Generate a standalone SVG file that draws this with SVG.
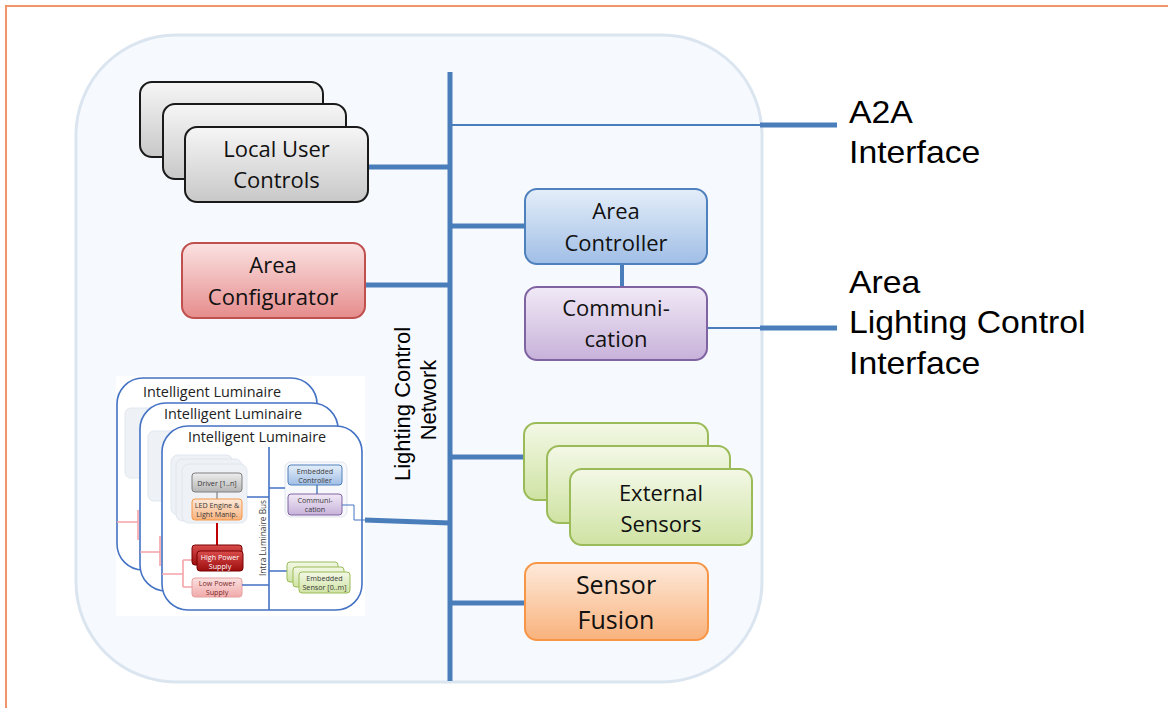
<svg xmlns="http://www.w3.org/2000/svg" width="1168" height="708" viewBox="0 0 1168 708">
<defs>
<linearGradient id="gGray" x1="0" y1="0" x2="0" y2="1"><stop offset="0" stop-color="#f6f6f6"/><stop offset="1" stop-color="#c8c8c8"/></linearGradient>
<linearGradient id="gRed" x1="0" y1="0" x2="0" y2="1"><stop offset="0" stop-color="#fbe2e2"/><stop offset="1" stop-color="#e68c8c"/></linearGradient>
<linearGradient id="gBlue" x1="0" y1="0" x2="0" y2="1"><stop offset="0" stop-color="#e4eef9"/><stop offset="1" stop-color="#a0bee6"/></linearGradient>
<linearGradient id="gPurple" x1="0" y1="0" x2="0" y2="1"><stop offset="0" stop-color="#f1e9f6"/><stop offset="1" stop-color="#c7b2da"/></linearGradient>
<linearGradient id="gGreen" x1="0" y1="0" x2="0" y2="1"><stop offset="0" stop-color="#f3f8e6"/><stop offset="1" stop-color="#cfe3a3"/></linearGradient>
<linearGradient id="gOrange" x1="0" y1="0" x2="0" y2="1"><stop offset="0" stop-color="#fdeadb"/><stop offset="1" stop-color="#f9b27c"/></linearGradient>
<linearGradient id="gDark" x1="0" y1="0" x2="0" y2="1"><stop offset="0" stop-color="#d94c4c"/><stop offset="1" stop-color="#9c0d0d"/></linearGradient>
<linearGradient id="gPink" x1="0" y1="0" x2="0" y2="1"><stop offset="0" stop-color="#fbe0e0"/><stop offset="1" stop-color="#f1aaaa"/></linearGradient>
<linearGradient id="gSGray" x1="0" y1="0" x2="0" y2="1"><stop offset="0" stop-color="#eeeeee"/><stop offset="1" stop-color="#b5b5b5"/></linearGradient>
</defs>
<style>
.big{font-family:'Open Sans',sans-serif;font-size:22px;fill:#111;text-anchor:middle}
.lbl{font-family:'Liberation Sans',Arial,sans-serif;font-size:31px;fill:#000}
.net{font-family:'Liberation Sans',Arial,sans-serif;font-size:22px;fill:#000;text-anchor:middle}
.bus{stroke:#4a7ebb;stroke-width:5;fill:none}
.thin{stroke:#4a7ebb;stroke-width:2;fill:none}
.ibus{stroke:#4472c4;stroke-width:1.6;fill:none}
.pink{stroke:#f4a3a8;stroke-width:1.6;fill:none}
.tiny{font-family:'Open Sans',sans-serif;font-size:7.2px;fill:#3a3a3a;text-anchor:middle}
.ltitle{font-family:'Open Sans',sans-serif;font-size:14.4px;fill:#222;text-anchor:middle}
.frame{fill:#fff;stroke:#4472c4;stroke-width:1.6}
.ghost{fill:#eef2f7;stroke:#e0e6ee;stroke-width:1}
.gray{fill:url(#gGray);stroke:#1a1a1a;stroke-width:2}
</style>
<rect width="1168" height="708" fill="#fff"/>
<path d="M6,708 V6 H1168" fill="none" stroke="#f0956a" stroke-width="2"/>
<rect id="area" x="76" y="35" width="686" height="647" rx="100" fill="#f6f9fd" stroke="#dbe5f0" stroke-width="3"/>

<g id="connectors">
<line class="bus" x1="450" y1="72" x2="450" y2="681"/>
<line class="bus" x1="366" y1="167" x2="450" y2="167"/>
<line class="thin" x1="450" y1="125" x2="760" y2="125"/>
<line class="bus" x1="760" y1="125" x2="837" y2="125"/>
<line class="bus" x1="450" y1="226" x2="525" y2="226"/>
<line class="bus" x1="364" y1="285" x2="450" y2="285"/>
<line stroke="#4a7ebb" stroke-width="4" x1="622" y1="264" x2="622" y2="287"/>
<line class="thin" x1="707" y1="328" x2="760" y2="328"/>
<line class="bus" x1="760" y1="328" x2="837" y2="328"/>
<line class="bus" x1="450" y1="457" x2="524" y2="457"/>
<line class="bus" x1="450" y1="603" x2="525" y2="603"/>
<line class="bus" x1="364" y1="520" x2="450" y2="523"/>
</g>

<g id="network-label">
<text class="net" transform="translate(410 404) rotate(-90)">Lighting Control</text>
<text class="net" transform="translate(436 400) rotate(-90)">Network</text>
</g>

<g id="local-user-controls">
<rect class="gray" x="140" y="82" width="183" height="75" rx="12"/>
<rect class="gray" x="163" y="104" width="183" height="75" rx="12"/>
<rect class="gray" x="185" y="127" width="183" height="75" rx="12"/>
<text class="big" x="276.5" y="157">Local User</text>
<text class="big" x="276.5" y="188">Controls</text>
</g>

<g id="area-configurator">
<rect x="182" y="243" width="183" height="75" rx="12" fill="url(#gRed)" stroke="#c0504d" stroke-width="2"/>
<text class="big" x="273" y="273">Area</text>
<text class="big" x="273" y="305">Configurator</text>
</g>

<g id="area-controller">
<rect x="525" y="189" width="182" height="75" rx="12" fill="url(#gBlue)" stroke="#4f81bd" stroke-width="2"/>
<text class="big" x="616" y="219">Area</text>
<text class="big" x="616" y="251">Controller</text>
</g>

<g id="communication">
<rect x="525" y="287" width="182" height="73" rx="12" fill="url(#gPurple)" stroke="#8064a2" stroke-width="2"/>
<text class="big" x="616" y="316">Communi-</text>
<text class="big" x="616" y="347">cation</text>
</g>

<g id="external-sensors">
<rect x="524" y="423" width="184" height="77" rx="12" fill="url(#gGreen)" stroke="#9bbb59" stroke-width="2"/>
<rect x="547" y="446" width="183" height="77" rx="12" fill="url(#gGreen)" stroke="#9bbb59" stroke-width="2"/>
<rect x="570" y="469" width="182" height="76" rx="12" fill="url(#gGreen)" stroke="#9bbb59" stroke-width="2"/>
<text class="big" x="661" y="501">External</text>
<text class="big" x="661" y="532">Sensors</text>
</g>

<g id="sensor-fusion">
<rect x="525" y="563" width="183" height="77" rx="12" fill="url(#gOrange)" stroke="#f79646" stroke-width="2"/>
<text class="big" x="616" y="594" style="font-size:25px">Sensor</text>
<text class="big" x="616" y="629" style="font-size:25px">Fusion</text>
</g>

<g id="a2a-interface">
<text class="lbl" transform="translate(849 123) scale(1.09 1)">A2A</text>
<text class="lbl" transform="translate(849 163) scale(1.09 1)">Interface</text>
</g>

<g id="area-lighting-control-interface">
<text class="lbl" transform="translate(849 293) scale(1.09 1)">Area</text>
<text class="lbl" transform="translate(849 333) scale(1.09 1)">Lighting Control</text>
<text class="lbl" transform="translate(849 374) scale(1.09 1)">Interface</text>
</g>

<g id="intelligent-luminaires">
<rect x="116" y="376" width="249" height="240" fill="#fff"/>
<rect class="frame" x="117" y="378" width="200" height="192" rx="26"/>
<rect class="ghost" x="125" y="408" width="40" height="70" rx="6"/>
<text class="ltitle" x="212" y="397">Intelligent Luminaire</text>
<path class="pink" d="M117,522 H138 M138,510 V540"/>
<rect class="frame" x="140" y="403" width="198" height="188" rx="26"/>
<rect class="ghost" x="148" y="431" width="40" height="70" rx="6"/>
<text class="ltitle" x="233" y="419">Intelligent Luminaire</text>
<path class="pink" d="M140,552 H160 M160,536 V566"/>
<rect class="frame" x="162" y="426" width="200" height="184" rx="26"/>
<text class="ltitle" x="257" y="442">Intelligent Luminaire</text>

<line class="ibus" x1="269" y1="447" x2="269" y2="610"/>
<text class="tiny" transform="translate(266 538) rotate(-90)" style="font-size:8.3px">Intra Luminaire Bus</text>

<rect class="ghost" x="171" y="455" width="62" height="60" rx="7"/>
<rect class="ghost" x="176" y="459" width="66" height="62" rx="7"/>
<rect class="ghost" x="182" y="464" width="65" height="59" rx="7"/>
<line stroke="#7f7f7f" stroke-width="1.2" x1="217" y1="492" x2="217" y2="499"/>
<rect x="192" y="473" width="50" height="19" rx="3" fill="url(#gSGray)" stroke="#7f7f7f" stroke-width="1"/>
<text class="tiny" x="217" y="486">Driver [1..n]</text>
<rect x="192" y="499" width="50" height="21" rx="3" fill="url(#gOrange)" stroke="#f79646" stroke-width="1"/>
<text class="tiny" x="217" y="507.5">LED Engine &amp;</text>
<text class="tiny" x="217" y="516.5">Light Manip.</text>

<line stroke="#c00000" stroke-width="2" x1="217" y1="523" x2="217" y2="546"/>
<path class="pink" d="M162,574 H183 M183,560 V587 M183,560 H192 M183,587 H192"/>
<rect x="192" y="545" width="50" height="20" rx="3" fill="url(#gDark)" stroke="#7a0000" stroke-width="1"/>
<rect x="197" y="551" width="46" height="20" rx="3" fill="url(#gDark)" stroke="#7a0000" stroke-width="1"/>
<text class="tiny" x="220" y="559.5" style="fill:#fff">High Power</text>
<text class="tiny" x="220" y="568.5" style="fill:#fff">Supply</text>
<rect x="192" y="578" width="50" height="19" rx="3" fill="url(#gPink)" stroke="#e6a0a0" stroke-width="1"/>
<text class="tiny" x="217" y="586" style="fill:#7b2b2b">Low Power</text>
<text class="tiny" x="217" y="595" style="fill:#7b2b2b">Supply</text>

<rect x="285" y="462" width="62" height="55" rx="6" fill="#f7f8fb" stroke="#dfe4ec" stroke-width="1"/>
<line stroke="#4f81bd" stroke-width="1.5" x1="317" y1="485" x2="317" y2="494"/>
<rect x="288" y="465" width="54" height="20" rx="3" fill="url(#gBlue)" stroke="#4f81bd" stroke-width="1"/>
<text class="tiny" x="315" y="474">Embedded</text>
<text class="tiny" x="315" y="483">Controller</text>
<rect x="288" y="494" width="54" height="21" rx="3" fill="url(#gPurple)" stroke="#8064a2" stroke-width="1"/>
<text class="tiny" x="315" y="503">Communi-</text>
<text class="tiny" x="315" y="512">cation</text>
<path class="ibus" style="stroke-width:1" d="M342,505 H354 V520 H365"/>

<path class="ibus" d="M247,497 H269 M269,488 H285 M269,571 H287 M242,585 H269"/>
<rect x="287" y="562" width="51" height="20" rx="3" fill="url(#gGreen)" stroke="#9bbb59" stroke-width="1"/>
<rect x="293" y="567" width="51" height="20" rx="3" fill="url(#gGreen)" stroke="#9bbb59" stroke-width="1"/>
<rect x="299" y="572" width="51" height="21" rx="3" fill="url(#gGreen)" stroke="#9bbb59" stroke-width="1"/>
<text class="tiny" x="324.5" y="581">Embedded</text>
<text class="tiny" x="324.5" y="590">Sensor [0..m]</text>
</g>
</svg>
